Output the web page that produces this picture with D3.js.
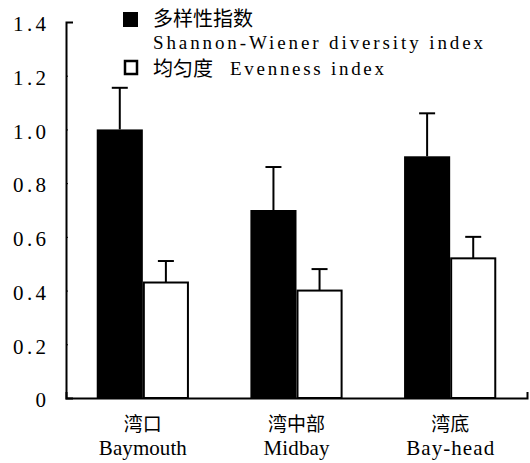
<!DOCTYPE html>
<html>
<head>
<meta charset="utf-8">
<script src="https://cdn.jsdelivr.net/npm/d3@7/dist/d3.min.js"></script>
<style>
  html, body { margin: 0; padding: 0; background: #fff; }
  svg { display: block; }
  .lat { font-family: "Liberation Serif", "DejaVu Serif", serif; }
  .cjk { font-family: "Noto Sans CJK SC", sans-serif; }
</style>
</head>
<body>
<svg id="chart" width="530" height="463"></svg>
<script>
// Sites along the bay
const sitesZh = ["湾口", "湾中部", "湾底"];
const sitesEn = ["Baymouth", "Midbay", "Bay-head"];

// Shannon-Wiener diversity index (mean and SD)
const diversity = [1.00, 0.70, 0.90];
const diversityErr = [0.155, 0.16, 0.16];

// Evenness index (mean and SD)
const evenness = [0.43, 0.40, 0.52];
const evennessErr = [0.08, 0.08, 0.08];

const yTicks = [0, 0.2, 0.4, 0.6, 0.8, 1.0, 1.2, 1.4];
const yTickLabels = ["0", "0.2", "0.4", "0.6", "0.8", "1.0", "1.2", "1.4"];

const legendItems = [
  { zh: "多样性指数", en: "Shannon-Wiener diversity index", fill: "#000" },
  { zh: "均匀度", en: "Evenness index", fill: "#fff" }
];

// Latin text is set on a fixed half-em grid
const HALF = 11;
function latin(sel, txt, size) {
  return sel.attr("class", "lat").attr("font-size", size)
    .attr("textLength", txt.length * HALF).attr("lengthAdjust", "spacing")
    .text(txt);
}

const svg = d3.select("#chart");
const plotLeft = 66, plotRight = 527, plotTop = 22, plotBottom = 398;

const x = d3.scaleBand().domain(sitesEn).range([plotLeft, plotRight])
  .paddingInner(0.4).paddingOuter(0.2);
const xSub = d3.scaleBand().domain(["div", "even"]).range([0, x.bandwidth()]);
const y = d3.scaleLinear().domain([0, 1.4]).range([plotBottom, plotTop]);

const rows = sitesEn.map((s, i) => ([
  { site: s, key: "div", v: diversity[i], e: diversityErr[i], fill: "#000" },
  { site: s, key: "even", v: evenness[i], e: evennessErr[i], fill: "#fff" }
])).flat();

// Error bars (drawn first so the bars sit over the stems)
const capW = 16;
const eb = svg.append("g").attr("stroke", "#000").attr("stroke-width", 2);
rows.forEach(d => {
  const cx = x(d.site) + xSub(d.key) + xSub.bandwidth() / 2;
  eb.append("line").attr("x1", cx).attr("x2", cx)
    .attr("y1", y(d.v)).attr("y2", y(d.v + d.e));
  eb.append("line").attr("x1", cx - capW / 2).attr("x2", cx + capW / 2)
    .attr("y1", y(d.v + d.e)).attr("y2", y(d.v + d.e));
});

// Bars
svg.append("g").selectAll("rect").data(rows).join("rect")
  .attr("x", d => x(d.site) + xSub(d.key) + (d.fill === "#fff" ? 1 : 0))
  .attr("y", d => y(d.v))
  .attr("width", d => xSub.bandwidth() - (d.fill === "#fff" ? 2 : 0))
  .attr("height", d => y(0) - y(d.v))
  .attr("fill", d => d.fill)
  .attr("stroke", "#000")
  .attr("stroke-width", d => d.fill === "#fff" ? 2 : 0);

// Y axis
const yAxis = d3.axisLeft(y).tickValues(yTicks)
  .tickFormat((d, i) => yTickLabels[i])
  .tickSizeInner(-2).tickSizeOuter(-7).tickPadding(20);
const gy = svg.append("g").attr("transform", `translate(${plotLeft},0)`).call(yAxis);
gy.select(".domain").attr("stroke-width", 2);
gy.selectAll(".tick line").attr("stroke-width", 1);
gy.selectAll(".tick text").each(function (d, i) {
  latin(d3.select(this), yTickLabels[i], 21).attr("fill", "#000").attr("dy", "0.42em");
});

// X axis
const xAxis = d3.axisBottom(x).tickSize(0).tickSizeOuter(-6).tickFormat("");
const gx = svg.append("g").attr("transform", `translate(0,${plotBottom})`).call(xAxis);
gx.select(".domain").attr("stroke-width", 2);

// Category labels (two lines)
sitesEn.forEach((s, i) => {
  const cx = x(s) + x.bandwidth() / 2;
  svg.append("text").attr("class", "cjk").attr("x", cx).attr("y", 431)
    .attr("text-anchor", "middle").attr("font-size", 19).text(sitesZh[i]);
  latin(svg.append("text").attr("x", cx).attr("y", 455).attr("text-anchor", "middle"), s, 21);
});

// Legend
const lg = svg.append("g");
lg.append("rect").attr("x", 123).attr("y", 12).attr("width", 15).attr("height", 15)
  .attr("fill", legendItems[0].fill);
lg.append("text").attr("class", "cjk").attr("x", 153).attr("y", 26)
  .attr("font-size", 20).text(legendItems[0].zh);
latin(lg.append("text").attr("x", 153).attr("y", 49), legendItems[0].en, 19);
lg.append("rect").attr("x", 125).attr("y", 61).attr("width", 12).attr("height", 13)
  .attr("fill", legendItems[1].fill).attr("stroke", "#000").attr("stroke-width", 2.5);
lg.append("text").attr("class", "cjk").attr("x", 153).attr("y", 76)
  .attr("font-size", 20).text(legendItems[1].zh);
latin(lg.append("text").attr("x", 153 + 7 * HALF).attr("y", 75), legendItems[1].en, 19);
</script>
</body>
</html>
